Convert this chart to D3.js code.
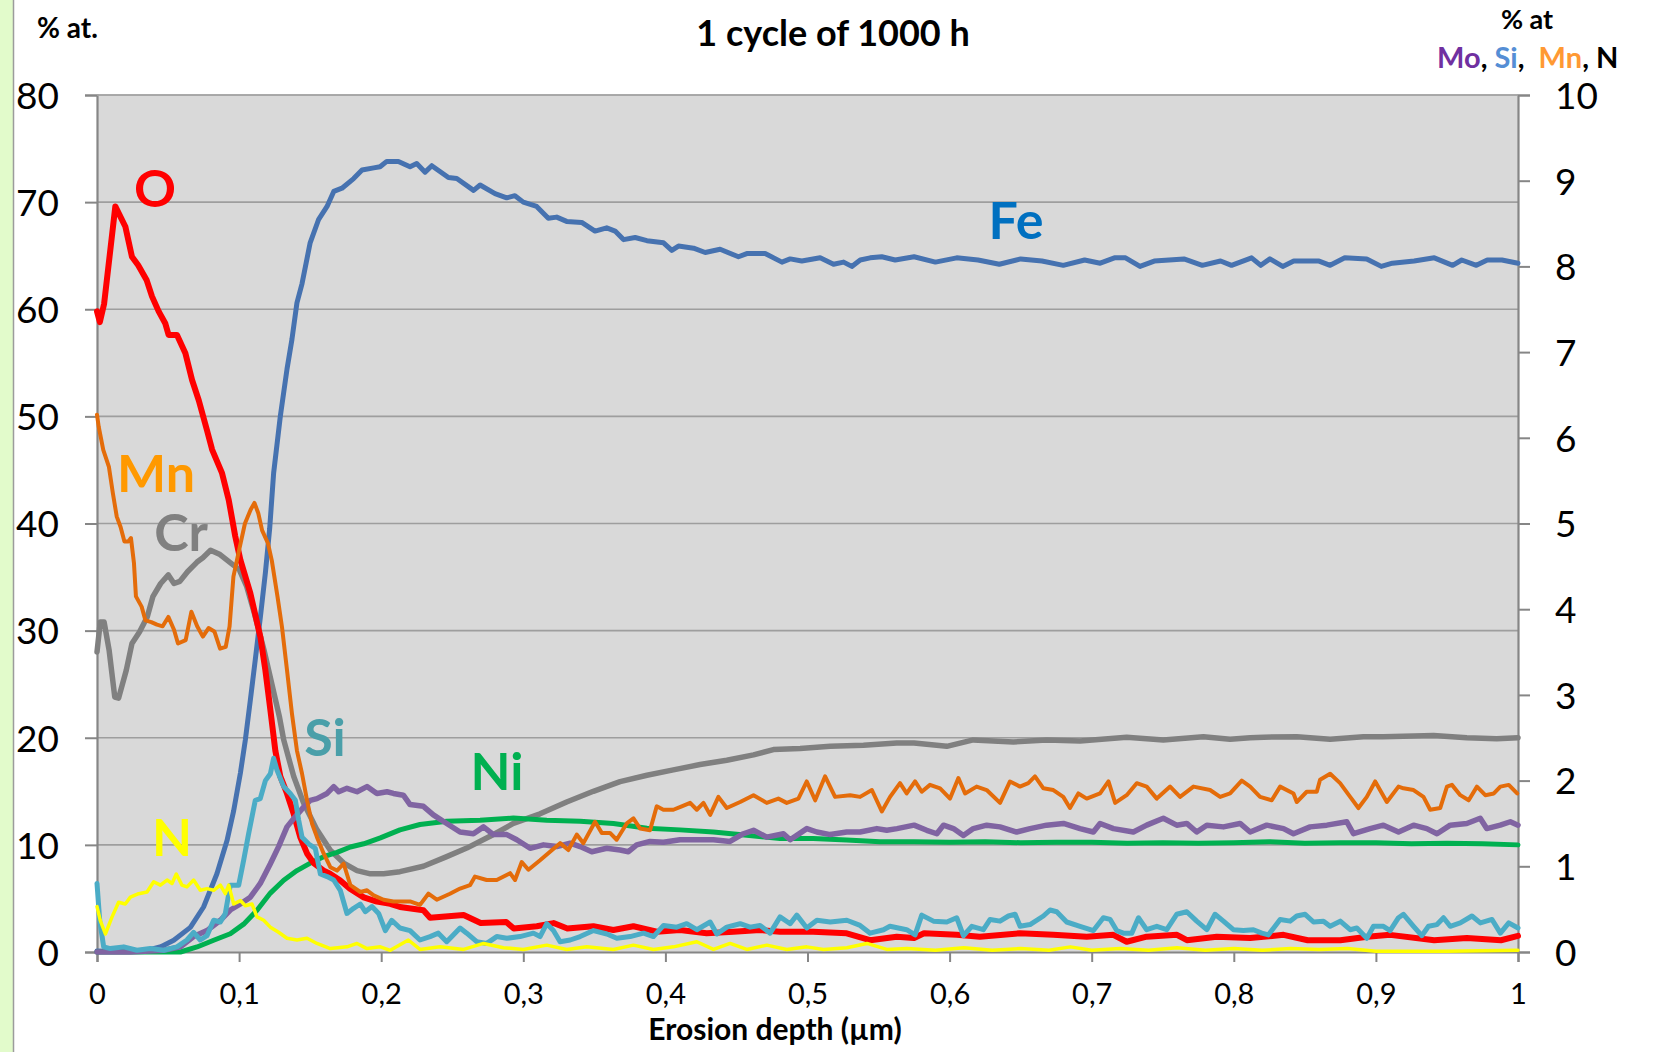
<!DOCTYPE html>
<html><head><meta charset="utf-8">
<script src="https://cdn.jsdelivr.net/npm/d3@7/dist/d3.min.js"></script>
<style>
html,body{margin:0;padding:0;background:#fff;}
svg{display:block;}
text{font-family:Lato,"Open Sans",sans-serif;}
</style></head>
<body><svg id="c" width="1673" height="1052"></svg>
<script>
// ---------- DATA ----------
const xTicks = [0,0.1,0.2,0.3,0.4,0.5,0.6,0.7,0.8,0.9,1];
const xTickLabels = ["0","0,1","0,2","0,3","0,4","0,5","0,6","0,7","0,8","0,9","1"];
const leftTicks = [0,10,20,30,40,50,60,70,80];
const rightTicks = [0,1,2,3,4,5,6,7,8,9,10];

// left axis (% at.) : O, Fe, Cr, Ni  -- [depth µm, value]
const seriesO = [[0,59.8],[0.002,58.8],[0.005,60.5],[0.0129,69.6],[0.020,67.7],[0.0246,64.9],[0.029,64.1],[0.035,62.7],[0.0387,61.2],[0.0434,59.8],[0.048,58.7],[0.0504,57.6],[0.0563,57.6],[0.0622,55.9],[0.0669,53.4],[0.0716,51.5],[0.0774,48.7],[0.081,46.9],[0.088,44.7],[0.0927,42.2],[0.0973,38.8],[0.1009,36.6],[0.1079,33.5],[0.115,29.4],[0.1185,26.3],[0.122,22.6],[0.1255,18.8],[0.129,16.4],[0.1337,14.8],[0.1384,12.9],[0.1431,10.7],[0.1478,9.2],[0.1525,8.3],[0.1595,7.6],[0.164,7.3],[0.171,6.7],[0.178,5.9],[0.1877,5.1],[0.197,4.7],[0.2064,4.5],[0.2132,4.2],[0.2297,3.9],[0.2344,3.2],[0.258,3.45],[0.27,2.7],[0.288,2.8],[0.2933,2.2],[0.3095,2.4],[0.3213,2.7],[0.331,2.2],[0.3493,2.4],[0.3634,2.05],[0.3775,2.4],[0.394,1.9],[0.4103,2.05],[0.429,1.75],[0.4479,1.9],[0.4666,2.05],[0.4807,1.9],[0.504,1.9],[0.5276,1.75],[0.544,1.1],[0.5628,1.43],[0.575,1.3],[0.582,1.75],[0.605,1.6],[0.6213,1.43],[0.6495,1.75],[0.673,1.6],[0.6965,1.43],[0.7152,1.6],[0.7246,0.96],[0.7387,1.43],[0.760,1.6],[0.767,1.1],[0.788,1.43],[0.8115,1.3],[0.835,1.6],[0.852,1.1],[0.875,1.1],[0.894,1.43],[0.910,1.6],[0.941,1.1],[0.964,1.3],[0.988,1.1],[1.0,1.5]];

const seriesFe = [[0,0.1],[0.01,0.05],[0.02,0.1],[0.035,0.15],[0.045,0.5],[0.054,1.1],[0.0657,2.3],[0.075,4.2],[0.0844,7.3],[0.0915,10.4],[0.0962,13.2],[0.1009,16.7],[0.1044,19.8],[0.1079,23.5],[0.1114,27.3],[0.115,31.3],[0.1185,35.4],[0.1215,39.5],[0.1243,44.7],[0.129,50.0],[0.1337,54.4],[0.1372,57.2],[0.1407,60.6],[0.1443,62.4],[0.150,66.2],[0.156,68.4],[0.1619,69.6],[0.1666,71.0],[0.1724,71.3],[0.1806,72.2],[0.1865,73.0],[0.1947,73.2],[0.1992,73.3],[0.2039,73.8],[0.2121,73.8],[0.2203,73.3],[0.225,73.6],[0.2309,72.8],[0.2356,73.4],[0.2473,72.3],[0.2532,72.2],[0.265,71.1],[0.2696,71.6],[0.2801,70.8],[0.2883,70.4],[0.2941,70.6],[0.3,70.0],[0.3094,69.6],[0.3176,68.5],[0.3235,68.6],[0.3305,68.2],[0.3411,68.1],[0.3505,67.3],[0.3587,67.6],[0.3646,67.3],[0.3705,66.5],[0.3787,66.7],[0.387,66.4],[0.3987,66.2],[0.4045,65.5],[0.4092,65.9],[0.4198,65.7],[0.428,65.3],[0.4385,65.6],[0.4514,64.9],[0.4573,65.2],[0.4702,65.2],[0.482,64.4],[0.4878,64.7],[0.496,64.5],[0.5089,64.8],[0.5183,64.2],[0.5254,64.4],[0.5312,64.0],[0.5371,64.6],[0.5441,64.8],[0.5523,64.9],[0.5617,64.6],[0.575,64.9],[0.59,64.4],[0.605,64.8],[0.62,64.6],[0.635,64.2],[0.65,64.7],[0.665,64.5],[0.68,64.1],[0.695,64.6],[0.706,64.3],[0.716,64.8],[0.7238,64.8],[0.734,64.0],[0.744,64.5],[0.7649,64.7],[0.7778,64.1],[0.7907,64.5],[0.7984,64.1],[0.8125,64.8],[0.819,64.1],[0.8254,64.7],[0.8344,64.0],[0.8422,64.5],[0.86,64.5],[0.8678,64.1],[0.8781,64.8],[0.8935,64.7],[0.9038,64.0],[0.9116,64.3],[0.9269,64.5],[0.9411,64.8],[0.954,64.1],[0.9604,64.6],[0.9707,64.1],[0.9784,64.6],[0.9887,64.6],[1.0,64.3]];

const seriesCr = [[0,28.0],[0.0023,30.8],[0.005,30.8],[0.0085,28.2],[0.0125,23.8],[0.0152,23.7],[0.0206,26.3],[0.0246,28.8],[0.03,29.9],[0.0354,31.3],[0.0394,33.2],[0.0448,34.4],[0.0502,35.2],[0.0542,34.4],[0.0583,34.6],[0.0637,35.5],[0.0704,36.4],[0.0745,36.8],[0.0799,37.5],[0.0866,37.1],[0.0933,36.4],[0.1001,35.7],[0.1054,34.1],[0.1108,31.6],[0.1175,28.2],[0.1229,25.1],[0.1283,22.0],[0.1314,19.8],[0.1384,16.4],[0.1454,13.9],[0.1548,11.4],[0.1642,9.5],[0.1736,8.3],[0.183,7.6],[0.1924,7.3],[0.2017,7.3],[0.2132,7.5],[0.2297,8.0],[0.2461,8.9],[0.2602,9.7],[0.2766,10.8],[0.293,12.0],[0.3118,12.9],[0.3305,14.0],[0.3493,15.0],[0.3681,15.9],[0.387,16.5],[0.4056,17.0],[0.4244,17.5],[0.4432,17.9],[0.462,18.4],[0.476,18.9],[0.4948,19.0],[0.516,19.2],[0.5394,19.3],[0.5628,19.5],[0.575,19.5],[0.598,19.2],[0.6167,19.8],[0.6448,19.6],[0.6683,19.8],[0.6918,19.7],[0.7246,20.05],[0.7504,19.8],[0.7786,20.1],[0.7974,19.85],[0.8115,20.0],[0.821,20.05],[0.8443,20.1],[0.8678,19.85],[0.8912,20.1],[0.905,20.1],[0.9406,20.2],[0.964,20.0],[0.985,19.9],[1.0,20.0]];

const seriesNi = [[0,0.0],[0.0587,0.0],[0.0704,0.47],[0.0821,1.1],[0.0938,1.7],[0.1032,2.6],[0.1126,3.9],[0.122,5.5],[0.1314,6.7],[0.1407,7.6],[0.1501,8.3],[0.1595,8.9],[0.1689,9.3],[0.1783,9.8],[0.1877,10.1],[0.1994,10.65],[0.2132,11.4],[0.2273,11.9],[0.2461,12.2],[0.2696,12.3],[0.293,12.5],[0.3165,12.3],[0.34,12.2],[0.3634,12.0],[0.387,11.55],[0.4103,11.4],[0.4338,11.2],[0.4573,10.9],[0.4807,10.6],[0.504,10.6],[0.5276,10.45],[0.551,10.3],[0.575,10.3],[0.6,10.25],[0.625,10.3],[0.65,10.2],[0.675,10.25],[0.7,10.25],[0.725,10.15],[0.75,10.2],[0.775,10.15],[0.8,10.2],[0.825,10.3],[0.85,10.15],[0.875,10.2],[0.9,10.2],[0.925,10.1],[0.95,10.15],[0.975,10.1],[1.0,10.0]];

// right axis (% at) : Mo, Si, Mn, N
const seriesMn = [[0,6.27],[0.0012,6.13],[0.0044,5.86],[0.0084,5.66],[0.0112,5.35],[0.0139,5.08],[0.0166,4.96],[0.0193,4.79],[0.022,4.79],[0.0239,4.83],[0.026,4.54],[0.0274,4.15],[0.0314,4.03],[0.0341,3.87],[0.0382,3.85],[0.0422,3.82],[0.0462,3.80],[0.0502,3.91],[0.0542,3.76],[0.057,3.6],[0.0624,3.64],[0.0664,3.97],[0.0705,3.80],[0.0745,3.68],[0.0785,3.78],[0.0826,3.74],[0.0866,3.54],[0.0906,3.56],[0.0933,3.80],[0.096,4.38],[0.1,4.69],[0.1041,5.0],[0.1081,5.16],[0.1108,5.24],[0.1135,5.12],[0.1162,4.92],[0.1203,4.77],[0.123,4.57],[0.127,4.15],[0.1302,3.79],[0.1337,3.29],[0.1372,2.78],[0.1407,2.35],[0.1443,2.08],[0.1478,1.77],[0.1513,1.5],[0.1548,1.34],[0.1595,1.15],[0.1642,0.99],[0.1689,0.95],[0.1736,1.03],[0.1783,0.78],[0.1853,0.70],[0.19,0.72],[0.1947,0.66],[0.2017,0.61],[0.2086,0.59],[0.2203,0.59],[0.2273,0.55],[0.2332,0.68],[0.2391,0.61],[0.2484,0.68],[0.2555,0.74],[0.2625,0.78],[0.266,0.88],[0.2742,0.84],[0.2813,0.84],[0.2907,0.92],[0.2942,0.84],[0.2989,1.05],[0.3036,0.96],[0.3118,1.07],[0.3188,1.17],[0.3259,1.27],[0.3317,1.19],[0.3376,1.37],[0.3423,1.27],[0.3505,1.52],[0.3552,1.39],[0.361,1.39],[0.3657,1.31],[0.3728,1.5],[0.3775,1.56],[0.3822,1.44],[0.3892,1.42],[0.3939,1.70],[0.3986,1.66],[0.4056,1.66],[0.4115,1.70],[0.4174,1.74],[0.4221,1.66],[0.4268,1.74],[0.4315,1.6],[0.4373,1.81],[0.4432,1.68],[0.4526,1.75],[0.462,1.83],[0.4713,1.74],[0.4795,1.79],[0.4854,1.74],[0.4936,1.79],[0.4995,1.99],[0.5054,1.77],[0.5124,2.05],[0.5194,1.81],[0.53,1.83],[0.537,1.81],[0.5453,1.89],[0.5523,1.64],[0.5581,1.81],[0.5651,1.97],[0.5698,1.85],[0.5757,1.99],[0.5804,1.87],[0.5862,1.95],[0.5933,1.91],[0.6003,1.79],[0.6062,2.03],[0.6109,1.85],[0.619,1.93],[0.6261,1.89],[0.6355,1.74],[0.6425,1.99],[0.6495,1.93],[0.6554,1.97],[0.6601,2.05],[0.666,1.91],[0.673,1.89],[0.68,1.81],[0.6847,1.68],[0.6906,1.85],[0.6965,1.79],[0.7059,1.85],[0.7118,1.99],[0.7165,1.74],[0.7246,1.83],[0.7317,1.97],[0.7387,1.93],[0.7458,1.79],[0.7552,1.93],[0.7622,1.81],[0.7716,1.93],[0.7833,1.89],[0.7904,1.81],[0.7974,1.85],[0.8056,2.0],[0.8115,1.93],[0.8185,1.81],[0.8267,1.77],[0.8326,1.93],[0.842,1.85],[0.8443,1.75],[0.8513,1.87],[0.8584,1.87],[0.8607,2.01],[0.8678,2.08],[0.8748,1.97],[0.8819,1.81],[0.8877,1.68],[0.8936,1.81],[0.8995,1.99],[0.9077,1.75],[0.9159,1.93],[0.9194,1.91],[0.9265,1.89],[0.9335,1.81],[0.9382,1.66],[0.9453,1.68],[0.95,1.93],[0.9535,1.95],[0.9594,1.83],[0.9653,1.77],[0.9711,1.93],[0.977,1.83],[0.983,1.85],[0.9876,1.93],[0.9935,1.95],[0.9994,1.85]];

const seriesMo = [[0,0.0],[0.0235,0.0],[0.047,0.02],[0.0587,0.06],[0.068,0.18],[0.0774,0.25],[0.0868,0.37],[0.0938,0.49],[0.1009,0.56],[0.1079,0.64],[0.1149,0.8],[0.122,1.03],[0.1278,1.23],[0.1337,1.46],[0.1396,1.58],[0.1454,1.69],[0.1501,1.77],[0.1548,1.79],[0.1619,1.85],[0.1666,1.93],[0.1701,1.87],[0.1759,1.91],[0.183,1.87],[0.19,1.93],[0.197,1.85],[0.2041,1.87],[0.2086,1.85],[0.2156,1.83],[0.2203,1.72],[0.2297,1.70],[0.2367,1.60],[0.2461,1.50],[0.2555,1.40],[0.2649,1.38],[0.272,1.46],[0.279,1.37],[0.2884,1.37],[0.2954,1.31],[0.3048,1.21],[0.3142,1.25],[0.3236,1.23],[0.333,1.27],[0.34,1.23],[0.3482,1.17],[0.3587,1.21],[0.3681,1.19],[0.374,1.17],[0.3798,1.25],[0.3892,1.29],[0.3986,1.28],[0.4103,1.31],[0.4221,1.31],[0.4338,1.31],[0.4455,1.29],[0.4549,1.38],[0.462,1.42],[0.4713,1.34],[0.4831,1.38],[0.4878,1.31],[0.4995,1.44],[0.5066,1.40],[0.516,1.37],[0.5276,1.40],[0.537,1.40],[0.5488,1.44],[0.5558,1.42],[0.563,1.44],[0.575,1.48],[0.5839,1.42],[0.591,1.38],[0.5957,1.48],[0.6027,1.44],[0.6097,1.36],[0.6167,1.44],[0.6261,1.48],[0.6355,1.46],[0.6472,1.40],[0.6566,1.44],[0.6683,1.48],[0.6801,1.50],[0.6918,1.44],[0.7012,1.40],[0.7059,1.50],[0.7153,1.44],[0.7293,1.40],[0.7387,1.48],[0.7504,1.56],[0.7598,1.48],[0.7669,1.50],[0.7739,1.40],[0.781,1.48],[0.7927,1.46],[0.8044,1.50],[0.8115,1.40],[0.8232,1.48],[0.835,1.44],[0.842,1.38],[0.8537,1.46],[0.8655,1.48],[0.8795,1.52],[0.8842,1.38],[0.8959,1.44],[0.9053,1.48],[0.9159,1.40],[0.9265,1.48],[0.9358,1.44],[0.943,1.38],[0.9523,1.48],[0.964,1.50],[0.9734,1.56],[0.978,1.44],[0.9875,1.48],[0.9946,1.52],[1.0,1.48]];

const seriesSi = [[0,0.80],[0.0019,0.37],[0.0047,0.06],[0.0094,0.04],[0.0188,0.06],[0.0281,0.02],[0.0375,0.04],[0.0469,0.02],[0.0563,0.06],[0.0633,0.14],[0.068,0.23],[0.0727,0.14],[0.0774,0.19],[0.0821,0.37],[0.0868,0.35],[0.0903,0.45],[0.0938,0.78],[0.0997,0.78],[0.1032,1.07],[0.1067,1.38],[0.1114,1.77],[0.1149,1.79],[0.1185,2.0],[0.122,2.08],[0.1243,2.26],[0.1267,2.12],[0.1314,1.93],[0.136,1.85],[0.1396,1.77],[0.1419,1.54],[0.1443,1.34],[0.149,1.26],[0.1536,1.21],[0.1572,0.91],[0.1619,0.88],[0.1666,0.84],[0.1712,0.72],[0.1759,0.45],[0.1806,0.51],[0.1853,0.56],[0.1888,0.47],[0.1935,0.53],[0.1982,0.45],[0.2029,0.25],[0.2074,0.37],[0.2132,0.28],[0.2203,0.25],[0.2273,0.14],[0.2344,0.18],[0.2402,0.22],[0.2461,0.12],[0.2555,0.28],[0.2602,0.22],[0.2672,0.12],[0.2743,0.10],[0.2813,0.18],[0.2884,0.16],[0.2977,0.18],[0.3071,0.22],[0.3118,0.18],[0.3165,0.33],[0.3212,0.25],[0.3259,0.12],[0.333,0.14],[0.34,0.18],[0.3494,0.25],[0.3588,0.21],[0.3658,0.16],[0.3752,0.18],[0.3846,0.22],[0.3916,0.18],[0.3987,0.31],[0.408,0.29],[0.415,0.33],[0.4221,0.26],[0.4315,0.35],[0.4362,0.21],[0.4432,0.29],[0.4526,0.33],[0.4596,0.29],[0.4666,0.31],[0.4737,0.22],[0.4807,0.41],[0.4878,0.33],[0.4925,0.43],[0.4995,0.28],[0.5066,0.37],[0.516,0.35],[0.5277,0.37],[0.537,0.31],[0.5441,0.22],[0.5535,0.26],[0.558,0.30],[0.5698,0.26],[0.5757,0.20],[0.5804,0.43],[0.5886,0.36],[0.598,0.35],[0.605,0.40],[0.6097,0.19],[0.6156,0.30],[0.6238,0.26],[0.6285,0.38],[0.6355,0.36],[0.6414,0.42],[0.6461,0.44],[0.6496,0.30],[0.6566,0.32],[0.666,0.42],[0.6707,0.49],[0.6754,0.47],[0.6824,0.35],[0.6918,0.30],[0.7012,0.25],[0.7082,0.40],[0.713,0.38],[0.7176,0.25],[0.7223,0.22],[0.7282,0.22],[0.7329,0.40],[0.7387,0.26],[0.7458,0.30],[0.7528,0.26],[0.7598,0.44],[0.7669,0.47],[0.7739,0.36],[0.781,0.26],[0.7868,0.44],[0.7927,0.36],[0.7997,0.26],[0.8068,0.25],[0.8138,0.26],[0.8197,0.22],[0.8244,0.20],[0.8326,0.38],[0.8397,0.36],[0.8443,0.42],[0.8502,0.44],[0.8561,0.35],[0.8631,0.36],[0.8678,0.30],[0.8749,0.36],[0.8819,0.26],[0.8866,0.28],[0.8936,0.16],[0.8983,0.30],[0.9053,0.30],[0.91,0.25],[0.9159,0.40],[0.9194,0.44],[0.9265,0.30],[0.9323,0.19],[0.937,0.30],[0.943,0.32],[0.9476,0.40],[0.9523,0.30],[0.9594,0.34],[0.9676,0.42],[0.9735,0.34],[0.9817,0.38],[0.9876,0.22],[0.9935,0.34],[1.0,0.28]];

const seriesN = [[0,0.53],[0.0023,0.37],[0.0059,0.21],[0.0106,0.41],[0.0152,0.58],[0.0199,0.56],[0.0235,0.64],[0.0293,0.68],[0.0352,0.70],[0.0399,0.82],[0.0446,0.78],[0.0493,0.84],[0.0528,0.80],[0.0558,0.91],[0.0598,0.78],[0.0633,0.76],[0.068,0.84],[0.0727,0.72],[0.0774,0.74],[0.0821,0.72],[0.0868,0.78],[0.0903,0.68],[0.0927,0.78],[0.0962,0.56],[0.1009,0.60],[0.1044,0.54],[0.1091,0.56],[0.1126,0.41],[0.1173,0.37],[0.122,0.29],[0.1278,0.23],[0.1337,0.16],[0.1407,0.14],[0.1478,0.16],[0.1548,0.10],[0.1642,0.04],[0.1759,0.06],[0.183,0.10],[0.19,0.04],[0.1994,0.06],[0.2064,0.02],[0.2191,0.14],[0.2273,0.03],[0.2414,0.06],[0.258,0.03],[0.272,0.10],[0.286,0.05],[0.3,0.03],[0.3165,0.08],[0.3306,0.03],[0.3447,0.06],[0.3634,0.03],[0.3775,0.08],[0.3916,0.03],[0.4057,0.06],[0.4221,0.12],[0.4338,0.03],[0.4455,0.10],[0.4573,0.03],[0.4714,0.08],[0.4855,0.03],[0.4995,0.06],[0.5113,0.03],[0.5277,0.05],[0.5418,0.10],[0.5558,0.03],[0.57,0.04],[0.59,0.02],[0.61,0.05],[0.63,0.02],[0.65,0.04],[0.67,0.02],[0.685,0.06],[0.70,0.02],[0.72,0.04],[0.74,0.02],[0.76,0.05],[0.78,0.02],[0.80,0.04],[0.82,0.02],[0.84,0.04],[0.86,0.03],[0.88,0.04],[0.90,0.01],[0.95,0.01],[1.0,0.02]];

// ---------- LAYOUT ----------
const svg = d3.select('#c');
const L = 97, R = 1518, T = 95, B = 952;
const x = d3.scaleLinear().domain([0,1]).range([L,R]);
const yL = d3.scaleLinear().domain([0,80]).range([B,T]);
const yR = d3.scaleLinear().domain([0,10]).range([B,T]);

// left green strip
svg.append('rect').attr('x',0).attr('y',0).attr('width',13).attr('height',1052).attr('fill','#e2fbcb');
svg.append('line').attr('x1',13.5).attr('x2',13.5).attr('y1',0).attr('y2',1052).attr('stroke','#9c9c9c').attr('stroke-width',1.5);

// plot background
svg.append('rect').attr('x',L).attr('y',T).attr('width',R-L).attr('height',B-T).attr('fill','#d9d9d9');

// gridlines
svg.append('g').selectAll('line').data(leftTicks.filter(d=>d>0)).join('line')
  .attr('x1',L).attr('x2',R).attr('y1',d=>yL(d)).attr('y2',d=>yL(d))
  .attr('stroke','#9e9e9e').attr('stroke-width',1.6);

// axes
const axisColor = '#868686';
const gxA = svg.append('g').attr('transform',`translate(0,${B})`)
  .call(d3.axisBottom(x).tickValues(xTicks).tickSize(10).tickFormat((d,i)=>xTickLabels[i]));
gxA.selectAll('text').attr('y',0).attr('dy',null).attr('transform','translate(0,52)')
  .attr('font-size',29).attr('fill','#000').attr('font-family','Lato');

const gyL = svg.append('g').attr('transform',`translate(${L},0)`)
  .call(d3.axisLeft(yL).tickValues(leftTicks).tickSize(12).tickPadding(26).tickFormat(d3.format('d')));
gyL.selectAll('text').attr('font-size',37).attr('fill','#000').attr('font-family','Lato').attr('dy','0.36em');

const gyR = svg.append('g').attr('transform',`translate(${R},0)`)
  .call(d3.axisRight(yR).tickValues(rightTicks).tickSize(12).tickPadding(25).tickFormat(d3.format('d')));
gyR.selectAll('text').attr('font-size',37).attr('fill','#000').attr('font-family','Lato').attr('dy','0.36em');

[gxA,gyL,gyR].forEach(g=>{
  g.selectAll('.tick line').attr('stroke',axisColor).attr('stroke-width',2);
  g.select('.domain').attr('stroke',axisColor).attr('stroke-width',2.2);
});
// top border
svg.append('line').attr('x1',L).attr('x2',R).attr('y1',T).attr('y2',T).attr('stroke','#a6a6a6').attr('stroke-width',1.6);

// ---------- SERIES ----------
const lineL = d3.line().x(d=>x(d[0])).y(d=>yL(d[1]));
const lineR = d3.line().x(d=>x(d[0])).y(d=>yR(d[1]));
const plots = [
  {data:seriesFe, gen:lineL, color:'#4672b0', w:5},
  {data:seriesCr, gen:lineL, color:'#808080', w:5.5},
  {data:seriesNi, gen:lineL, color:'#00b050', w:5},
  {data:seriesO,  gen:lineL, color:'#ff0000', w:6},
  {data:seriesMo, gen:lineR, color:'#8064a2', w:5.5},
  {data:seriesSi, gen:lineR, color:'#4bacc6', w:5},
  {data:seriesMn, gen:lineR, color:'#e46c0a', w:4},
  {data:seriesN,  gen:lineR, color:'#ffff00', w:3.5}
];
const gS = svg.append('g');
plots.forEach(p=>{
  gS.append('path').attr('d',p.gen(p.data)).attr('fill','none')
    .attr('stroke',p.color).attr('stroke-width',p.w)
    .attr('stroke-linejoin','round').attr('stroke-linecap','round');
});

// ---------- LABELS ----------
const labels = [
  {t:'O', x:155, y:207, c:'#ff0000'},
  {t:'Fe', x:1016, y:239, c:'#0070c0'},
  {t:'Mn', x:156, y:492, c:'#ff9900'},
  {t:'Cr', x:181, y:551, c:'#808080'},
  {t:'Si', x:325, y:756, c:'#4a9fa9'},
  {t:'Ni', x:497, y:790, c:'#00b050'},
  {t:'N', x:172, y:856, c:'#ffff00'}
];
svg.append('g').selectAll('text').data(labels).join('text')
  .attr('x',d=>d.x).attr('y',d=>d.y).attr('text-anchor','middle')
  .attr('font-size',52).attr('font-weight','bold').attr('fill',d=>d.c).text(d=>d.t);

// titles
svg.append('text').attr('x',833).attr('y',46).attr('text-anchor','middle')
  .attr('font-size',36).attr('font-weight','bold').text('1 cycle of 1000 h');
svg.append('text').attr('x',37).attr('y',38)
  .attr('font-size',28).attr('font-weight','bold').text('% at.');
svg.append('text').attr('x',1527).attr('y',29).attr('text-anchor','middle')
  .attr('font-size',27).attr('font-weight','bold').text('% at');
const rt = svg.append('text').attr('x',1437).attr('y',68).attr('font-size',29).attr('font-weight','bold').attr('xml:space','preserve');
[['Mo','#7030a0'],[', ','#000'],['Si','#558ed5'],[',  ','#000'],['Mn','#ff9933'],[', N','#000']]
  .forEach(s=>rt.append('tspan').attr('fill',s[1]).text(s[0]));
svg.append('text').attr('x',775).attr('y',1040).attr('text-anchor','middle')
  .attr('font-size',30).attr('font-weight','bold').text('Erosion depth (µm)');
</script></body></html>
